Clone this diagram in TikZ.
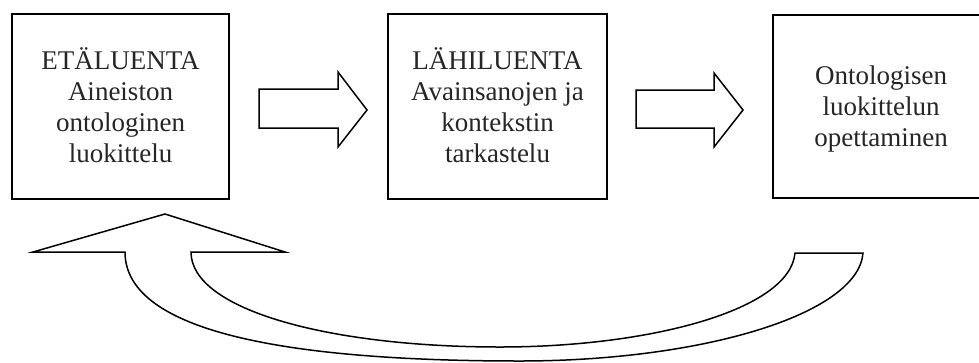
\documentclass[tikz,border=0pt]{standalone}
\usepackage{fontspec}
\setmainfont{Liberation Serif}
\begin{document}
\begin{tikzpicture}[x=1pt,y=-1pt,
  stagebox/.style={draw=black, line width=1.6pt, fill=white},
  stagetext/.style={align=center, text=black!85,
    font=\fontsize{27}{31}\selectfont},
  blockarrow/.style={draw=black, line width=1.5pt, fill=white, line join=miter}]
\useasboundingbox (0,0) rectangle (979,362);

% three stages
\draw[stagebox] (12,14) rectangle (229,199);
\draw[stagebox] (388,14) rectangle (607,199);
\draw[stagebox] (773,15) rectangle (995,198);

\node[stagetext] (t1) at (120.5,105) {ETÄLUENTA\\Aineiston\\ontologinen\\luokittelu};
\node[stagetext] (t2) at (497.5,105) {LÄHILUENTA\\Avainsanojen ja\\kontekstin\\tarkastelu};
\node[stagetext] (t3) at (881,109) {Ontologisen\\luokittelun\\opettaminen};

% block arrows between stages
\draw[blockarrow] (259,89) -- (338,89) -- (338,72) -- (367,110) -- (338,147)
  -- (338,128) -- (259,128) -- cycle;
\draw[blockarrow] (636,90) -- (714,90) -- (714,73) -- (743,110) -- (714,147)
  -- (714,128) -- (636,128) -- cycle;

% curved feedback arrow back to the first stage
\draw[blockarrow] (165,214) -- (285,252) -- (191,252)
  .. controls (191,310) and (330,347) .. (500,347)
  .. controls (650,347) and (790,310) .. (795,253)
  -- (863,253)
  .. controls (858,315) and (700,361) .. (520,361)
  .. controls (300,361) and (125,335) .. (125,252)
  -- (33,252) -- cycle;
\end{tikzpicture}
\end{document}
